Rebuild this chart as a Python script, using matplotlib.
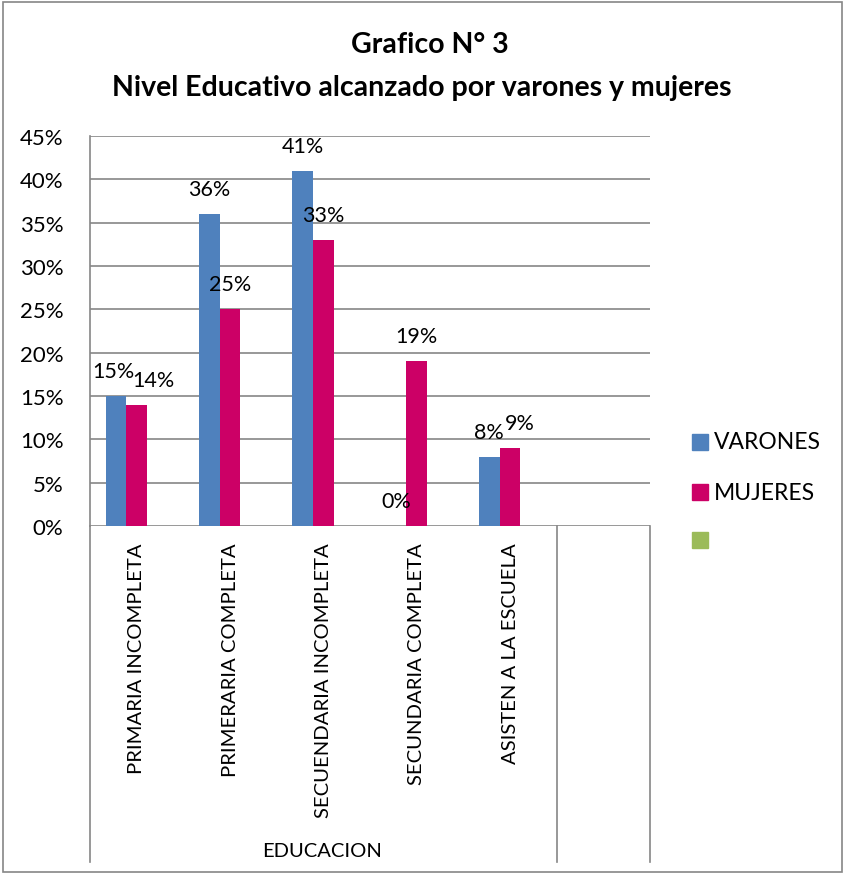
import matplotlib
matplotlib.use("Agg")
import matplotlib.pyplot as plt
import numpy as np
from matplotlib.patches import Rectangle

# data
categories = ["PRIMARIA INCOMPLETA", "PRIMERARIA COMPLETA", "SECUENDARIA INCOMPLETA",
              "SECUNDARIA COMPLETA", "ASISTEN A LA ESCUELA", ""]
varones = [0.15, 0.36, 0.41, 0.00, 0.08]
mujeres = [0.14, 0.25, 0.33, 0.19, 0.09]
yticks = [0, 0.05, 0.10, 0.15, 0.20, 0.25, 0.30, 0.35, 0.40, 0.45]

BLUE = "#4F81BD"
MAGENTA = "#CC0066"
GREEN = "#9BBB59"
GRID = "#868686"
FONT = "Lato"

W, H = 845, 878
fig = plt.figure(figsize=(W / 100, H / 100), dpi=100)
plt.rcParams['font.family'] = [FONT, 'DejaVu Sans']

# outer chart border
fig.patches.append(Rectangle((3 / W, 1 - 873 / H), 839 / W, 870 / H, transform=fig.transFigure,
                             fill=False, edgecolor=GRID, linewidth=1.2))

# plot area (pixels: x 90..650, y 137..527)
ax = fig.add_axes([90 / W, 1 - 527 / H, 560 / W, 390 / H])
ax.set_xlim(0, len(categories))
ax.set_ylim(0, 0.45)

w = 1 / 4.5
x = np.arange(len(varones)) + 0.5
ax.bar(x - w, varones, width=w, color=BLUE, zorder=3)
ax.bar(x, mujeres, width=w, color=MAGENTA, zorder=3)

# data labels (a few nudged sideways so neighbours don't collide)
label_dx = {(0, 0): -3, (1, 0): 17, (1, 4): 10}
for i, v in enumerate(varones):
    ax.annotate(f"{round(v * 100)}%", (x[i] - w, v), xytext=(label_dx.get((0, i), 0), 25),
                textcoords="offset pixels", ha="center", va="center", fontsize=15.5)
for i, v in enumerate(mujeres):
    ax.annotate(f"{round(v * 100)}%", (x[i], v), xytext=(label_dx.get((1, i), 0), 25),
                textcoords="offset pixels", ha="center", va="center", fontsize=15.5)

# grid and axes
ax.set_yticks(yticks)
ax.set_yticklabels([f"{round(t * 100)}%" for t in yticks], fontsize=16)
for t in yticks:
    ax.axhline(t, color=GRID, linewidth=1.2, zorder=1)
for s in ["top", "right", "bottom"]:
    ax.spines[s].set_visible(False)
ax.spines["left"].set_color(GRID)
ax.spines["left"].set_linewidth(1.2)
ax.tick_params(axis="y", length=0, pad=19)

ax.set_xticks(np.arange(len(categories)) + 0.5)
ax.set_xticklabels(categories, rotation=90, va="top", fontsize=14.6)
ax.tick_params(axis="x", length=0, pad=12)

# category separators below the axis
low = -(863 - 527) / 390
for xv in [0, 5, 6]:
    ax.plot([xv, xv], [0, low], color=GRID, linewidth=1.2, clip_on=False,
            transform=ax.get_xaxis_transform())

fig.text(322 / W, 1 - 852 / H, "EDUCACION", ha="center", va="center", fontsize=14.5)

# title
fig.text(430 / W, 1 - 45 / H, "Grafico N° 3", ha="center", va="center",
         fontsize=20.5, fontweight="bold")
fig.text(422 / W, 1 - 88 / H, "Nivel Educativo alcanzado por varones y mujeres", ha="center",
         va="center", fontsize=20.5, fontweight="bold")

# legend
legend_items = [("VARONES", BLUE, 443), ("MUJERES", MAGENTA, 493), ("", GREEN, 541)]
for name, color, yp in legend_items:
    fig.patches.append(Rectangle((692 / W, 1 - (yp + 8) / H), 16 / W, 16 / H,
                                 transform=fig.transFigure, color=color))
    fig.text(714 / W, 1 - yp / H, name, ha="left", va="center", fontsize=16.5)

fig.savefig("out.png", dpi=100)
